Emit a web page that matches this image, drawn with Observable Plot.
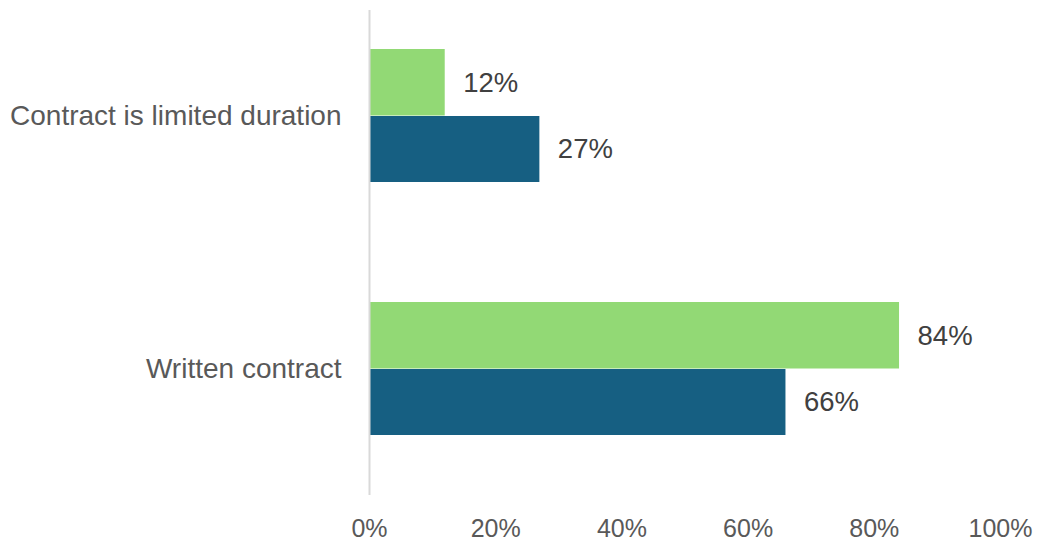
<!DOCTYPE html>
<html><head><meta charset="utf-8">
<script src="https://cdn.jsdelivr.net/npm/d3@7"></script>
<script src="https://cdn.jsdelivr.net/npm/@observablehq/plot@0.6"></script>
<style>body{margin:0;background:#fff}</style>
</head><body><div id="chart"></div>
<script>
const categories = ["Contract is limited duration", "Written contract"];
const seriesNames = ["Series A", "Series B"];
const seriesA = [0.12, 0.84]; // green (top)
const seriesB = [0.27, 0.66]; // blue (bottom)
const xTicks = [0, 0.2, 0.4, 0.6, 0.8, 1.0];
const colors = ["#92d975", "#165f82"];

const dataA = categories.map((c, i) => ({category: c, value: seriesA[i]}));
const dataB = categories.map((c, i) => ({category: c, value: seriesB[i]}));

const fontSize = 25;
const bw = 133;

const chart = Plot.plot({
  width: 1038,
  height: 545,
  marginLeft: 369,
  marginRight: 38,
  marginTop: 10,
  marginBottom: 50,
  style: {fontFamily: "'Liberation Sans', Arial, sans-serif", fontSize: fontSize + "px", background: "#fff"},
  x: {domain: [0, 1], ticks: xTicks, tickFormat: d3.format(".0%"), label: null},
  y: {domain: categories, range: [-71.4, 556], paddingInner: 0.475, paddingOuter: 0.475, label: null},
  marks: [
    Plot.barX(dataA, {y: "category", x: "value", fill: colors[0], insetBottom: bw / 2}),
    Plot.barX(dataB, {y: "category", x: "value", fill: colors[1], insetTop: bw / 2 + 0.5}),
    Plot.text(dataA, {y: "category", x: "value", text: d => Math.round(d.value * 100) + "%", dy: -bw / 4, dx: 18, textAnchor: "start", fill: "#404040", fontSize: 27.5}),
    Plot.text(dataB, {y: "category", x: "value", text: d => Math.round(d.value * 100) + "%", dy: bw / 4, dx: 18, textAnchor: "start", fill: "#404040", fontSize: 27.5}),
    Plot.ruleX([0], {stroke: "#d9d9d9", strokeWidth: 2}),
    Plot.axisX({ticks: xTicks, tickFormat: d3.format(".0%"), tickSize: 0, tickPadding: 24, fill: "#595959", fontSize: fontSize, label: null}),
    Plot.axisY({tickSize: 0, tickPadding: 28, fill: "#595959", fontSize: 28, label: null})
  ]
});
document.getElementById("chart").appendChild(chart);
</script>
</body></html>
